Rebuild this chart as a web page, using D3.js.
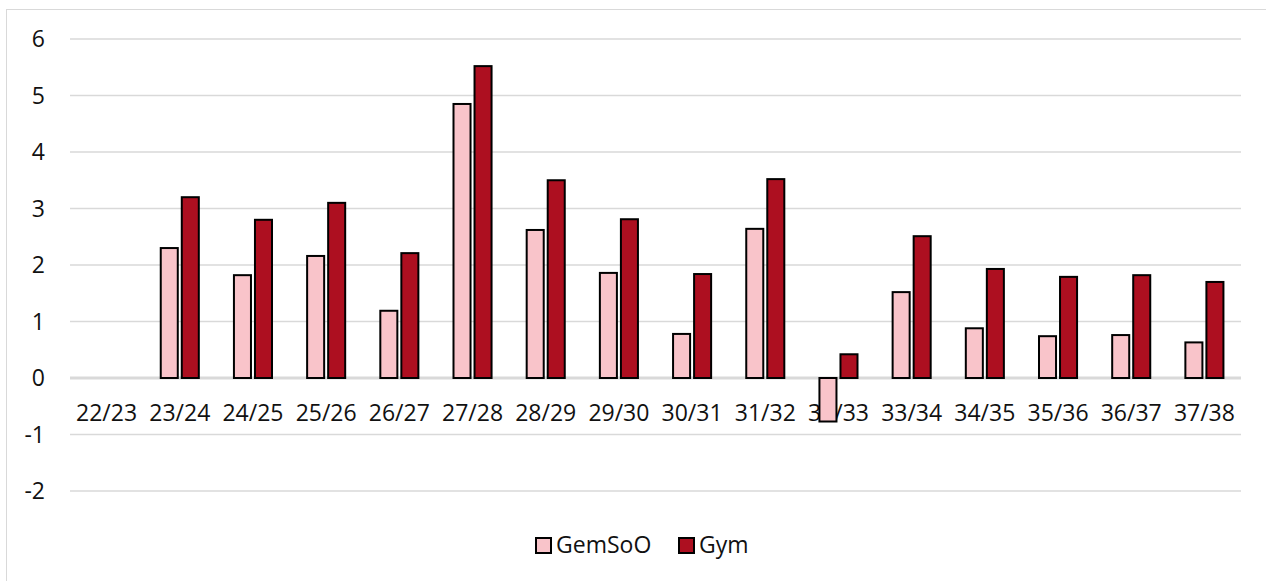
<!DOCTYPE html>
<html>
<head>
<meta charset="utf-8">
<script src="https://cdn.jsdelivr.net/npm/d3@7"></script>
<style>
  body { margin: 0; background: #fff; }
  svg { font-family: "Open Sans", sans-serif; }
</style>
</head>
<body>
<svg id="chart" width="1266" height="581"></svg>
<script>
// Years on the x axis
var categories = ['22/23', '23/24', '24/25', '25/26', '26/27', '27/28', '28/29', '29/30',
  '30/31', '31/32', '32/33', '33/34', '34/35', '35/36', '36/37', '37/38'];
var seriesNames = ['GemSoO', 'Gym'];
var gemValues = [null, 2.30, 1.82, 2.16, 1.19, 4.85, 2.62, 1.86, 0.78, 2.64, -0.77, 1.52, 0.88, 0.74, 0.76, 0.63];
var gymValues = [null, 3.20, 2.80, 3.10, 2.21, 5.52, 3.50, 2.81, 1.84, 3.52, 0.42, 2.51, 1.93, 1.79, 1.82, 1.70];
var yTicks = [-2, -1, 0, 1, 2, 3, 4, 5, 6];
var colors = ['#f9c4ca', '#ad0f20'];

var svg = d3.select('#chart');
var margin = { top: 39, left: 70, right: 25 };
var width = +svg.attr('width');
var fontSize = 23;

// outer frame
svg.append('rect')
    .attr('x', 6.5).attr('y', 9.5)
    .attr('width', 1270).attr('height', 600)
    .attr('fill', 'none')
    .attr('stroke', '#d9d9d9')
    .attr('stroke-width', 1);

var x0 = d3.scaleBand()
    .domain(categories)
    .range([margin.left, width - margin.right])
    .paddingInner(0).paddingOuter(0);

var pairWidth = x0.bandwidth() * 0.52;
var x1 = d3.scaleBand()
    .domain(seriesNames)
    .range([-pairWidth / 2, pairWidth / 2])
    .paddingInner(0.19);

var y = d3.scaleLinear()
    .domain([-2, 6])
    .range([491, 39]);

// gridlines
svg.append('g').selectAll('line')
  .data(yTicks)
  .enter().append('line')
    .attr('x1', margin.left)
    .attr('x2', width - margin.right)
    .attr('y1', function (d) { return y(d); })
    .attr('y2', function (d) { return y(d); })
    .attr('stroke', '#d9d9d9')
    .attr('stroke-width', function (d) { return d === 0 ? 3 : 1.5; });

// y tick labels
svg.append('g').selectAll('text')
  .data(yTicks)
  .enter().append('text')
    .attr('x', 45)
    .attr('y', function (d) { return y(d); })
    .attr('dy', '0.35em')
    .attr('text-anchor', 'end')
    .attr('font-size', fontSize)
    .attr('fill', '#111')
    .text(function (d) { return d; });

// category labels (sit just below zero line)
svg.append('g').selectAll('text')
  .data(categories)
  .enter().append('text')
    .attr('x', function (d) { return x0(d) + x0.bandwidth() / 2; })
    .attr('y', 413)
    .attr('dy', '0.35em')
    .attr('text-anchor', 'middle')
    .attr('font-size', fontSize)
    .attr('fill', '#111')
    .text(function (d) { return d; });

var rows = categories.map(function (c, i) {
  return { cat: c, values: [gemValues[i], gymValues[i]] };
});

var groups = svg.append('g').selectAll('g')
  .data(rows)
  .enter().append('g')
    .attr('transform', function (d) { return 'translate(' + (x0(d.cat) + x0.bandwidth() / 2) + ',0)'; });

groups.selectAll('rect')
  .data(function (d) {
    return d.values.map(function (v, i) { return { key: seriesNames[i], value: v, i: i }; })
      .filter(function (e) { return e.value !== null; });
  })
  .enter().append('rect')
    .attr('x', function (d) { return x1(d.key); })
    .attr('width', x1.bandwidth())
    .attr('y', function (d) { return y(Math.max(0, d.value)); })
    .attr('height', function (d) { return Math.abs(y(d.value) - y(0)); })
    .attr('fill', function (d) { return colors[d.i]; })
    .attr('stroke', '#000')
    .attr('stroke-width', 2);

// legend
var legendItems = [
  { name: 'GemSoO', x: 535 },
  { name: 'Gym', x: 678 }
];
var legend = svg.append('g').selectAll('g')
  .data(legendItems)
  .enter().append('g')
    .attr('transform', function (d) { return 'translate(' + d.x + ',545)'; });
legend.append('rect')
    .attr('x', 1).attr('y', -7)
    .attr('width', 15).attr('height', 15)
    .attr('fill', function (d, i) { return colors[i]; })
    .attr('stroke', '#000')
    .attr('stroke-width', 2);
legend.append('text')
    .attr('x', 21)
    .attr('y', 0)
    .attr('dy', '0.35em')
    .attr('font-size', fontSize)
    .attr('fill', '#111')
    .text(function (d) { return d.name; });
</script>
</body>
</html>
